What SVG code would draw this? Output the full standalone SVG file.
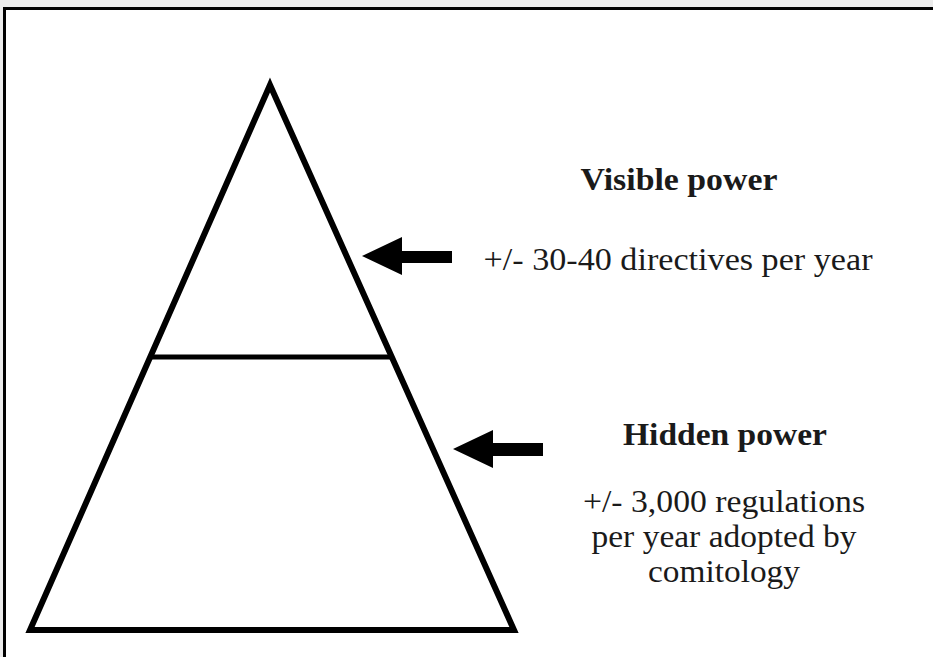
<svg xmlns="http://www.w3.org/2000/svg" width="933" height="657" viewBox="0 0 933 657">
  <style>
    .shape { fill: none; stroke: #000; stroke-width: 6; stroke-linejoin: miter; }
    .arrow { fill: #000; stroke: none; }
    text { fill: #1a1a1a; }
  </style>
  <rect x="0" y="0" width="933" height="657" fill="#ebebeb"/>
  <rect x="4.5" y="8.5" width="940" height="660" fill="#fff" stroke="#000" stroke-width="3"/>

  <g id="pyramid">
    <polygon class="shape" points="270,85 514,630 30,630"/>
    <line x1="150" y1="357" x2="392" y2="357" stroke="#000" stroke-width="5"/>
  </g>

  <g id="connectors">
    <polygon class="arrow" points="362,256 402,237 402,251 452,251 452,263 402,263 402,275"/>
    <polygon class="arrow" points="453,449 493,430 493,443 543,443 543,456 493,456 493,468"/>
  </g>

  <g id="visible-power" font-family="Liberation Serif, serif" font-size="31" text-anchor="middle">
    <text x="679" y="190" font-weight="bold" textLength="197" lengthAdjust="spacingAndGlyphs">Visible power</text>
    <text x="678" y="270" textLength="389" lengthAdjust="spacingAndGlyphs">+/- 30-40 directives per year</text>
  </g>

  <g id="hidden-power" font-family="Liberation Serif, serif" font-size="31" text-anchor="middle">
    <text x="725" y="445" font-weight="bold" textLength="204" lengthAdjust="spacingAndGlyphs">Hidden power</text>
    <text x="724" y="512" textLength="282" lengthAdjust="spacingAndGlyphs">+/- 3,000 regulations</text>
    <text x="724" y="547" textLength="265" lengthAdjust="spacingAndGlyphs">per year adopted by</text>
    <text x="724" y="582" textLength="152" lengthAdjust="spacingAndGlyphs">comitology</text>
  </g>
</svg>
